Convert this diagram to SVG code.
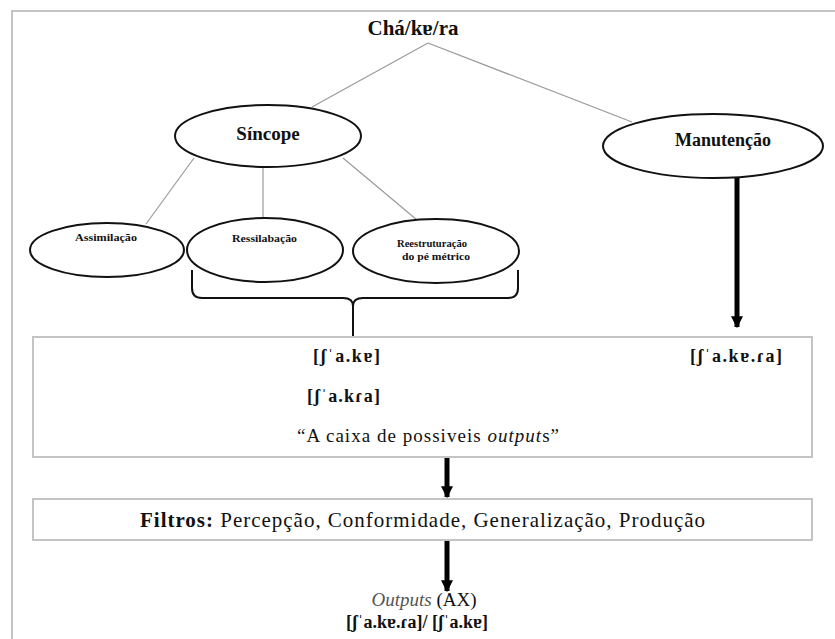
<svg xmlns="http://www.w3.org/2000/svg" width="835" height="639" viewBox="0 0 835 639">
  <style>
    text { font-family: "Liberation Serif", "DejaVu Serif", serif; fill: #111; }
    .b { font-weight: bold; }
    .oval { fill: #fff; stroke: #111; stroke-width: 2; }
    .thin { stroke: #9a9a9a; stroke-width: 1.2; fill: none; }
    .thick { stroke: #000; stroke-width: 5; fill: none; }
    .box { fill: #fff; stroke: #c4c4c4; stroke-width: 2; }
  </style>
  <defs>
    <marker id="head" viewBox="0 0 10 10" refX="9" refY="5" markerWidth="2.6" markerHeight="2.4" orient="auto" markerUnits="strokeWidth">
      <path d="M0,0 L10,5 L0,10 z" fill="#000"/>
    </marker>
  </defs>

  <!-- outer frame -->
  <path d="M12,639 V11 H835" fill="none" stroke="#c4c4c4" stroke-width="2"/>

  <!-- connectors -->
  <g id="connectors">
    <line class="thin" x1="428" y1="43" x2="312" y2="107"/>
    <line class="thin" x1="428" y1="43" x2="632" y2="122"/>
    <line class="thin" x1="194" y1="158" x2="146" y2="224"/>
    <line class="thin" x1="263" y1="168" x2="263" y2="218"/>
    <line class="thin" x1="343" y1="158" x2="417" y2="220"/>
    <path d="M192,270 V288 Q192,298 202,298 H343 Q353,298 353,306 Q353,298 363,298 H508 Q518,298 518,288 V270" fill="none" stroke="#111" stroke-width="2"/>
    <line x1="353" y1="305" x2="353" y2="337" stroke="#111" stroke-width="2"/>
    <line class="thick" x1="737" y1="178" x2="737" y2="327" marker-end="url(#head)"/>
    <line class="thick" x1="447" y1="458" x2="447" y2="497" marker-end="url(#head)"/>
    <line class="thick" x1="447" y1="541" x2="447" y2="591" marker-end="url(#head)"/>
  </g>

  <g id="root">
    <text class="b" x="413" y="35" font-size="21" text-anchor="middle">Chá/kɐ/ra</text>
  </g>

  <g id="sincope">
    <ellipse class="oval" cx="268" cy="136" rx="93" ry="31"/>
    <text class="b" x="268" y="140" font-size="19" text-anchor="middle">Síncope</text>
  </g>

  <g id="manutencao">
    <ellipse class="oval" cx="713" cy="146" rx="110" ry="32"/>
    <text class="b" x="723" y="146" font-size="18" text-anchor="middle">Manutenção</text>
  </g>

  <g id="assimilacao">
    <ellipse class="oval" cx="107" cy="250" rx="77" ry="27"/>
    <text class="b" x="75" y="241" font-size="10" textLength="62" lengthAdjust="spacingAndGlyphs">Assimilação</text>
  </g>

  <g id="ressilabacao">
    <ellipse class="oval" cx="265" cy="250" rx="78" ry="32"/>
    <text class="b" x="232" y="242" font-size="10" textLength="65" lengthAdjust="spacingAndGlyphs">Ressilabação</text>
  </g>

  <g id="reestruturacao">
    <ellipse class="oval" cx="436" cy="251" rx="83" ry="32"/>
    <text class="b" x="397" y="247" font-size="10" textLength="70" lengthAdjust="spacingAndGlyphs">Reestruturação</text>
    <text class="b" x="402" y="260" font-size="10" textLength="68" lengthAdjust="spacingAndGlyphs">do pé métrico</text>
  </g>

  <g id="outputs-box">
    <rect class="box" x="33" y="337" width="779" height="120"/>
    <text class="b" x="313" y="362" font-size="18" textLength="67">[ʃˈa.kɐ]</text>
    <text class="b" x="690" y="362" font-size="18" textLength="92">[ʃˈa.kɐ.ɾa]</text>
    <text class="b" x="307" y="402" font-size="18" textLength="73">[ʃˈa.kɾa]</text>
    <text x="297" y="442" font-size="19" textLength="262">“A caixa de possiveis <tspan font-style="italic">output</tspan>s”</text>
  </g>

  <g id="filtros">
    <rect class="box" x="33" y="499" width="779" height="41"/>
    <text x="140" y="527" font-size="21" textLength="565"><tspan class="b">Filtros:</tspan> Percepção, Conformidade, Generalização, Produção</text>
  </g>

  <g id="result">
    <text x="424" y="606" font-size="19" text-anchor="middle"><tspan font-style="italic" fill="#555">Outputs</tspan> (AX)</text>
    <text class="b" x="417" y="628" font-size="18" text-anchor="middle">[ʃˈa.kɐ.ɾa]/ [ʃˈa.kɐ]</text>
  </g>
</svg>
